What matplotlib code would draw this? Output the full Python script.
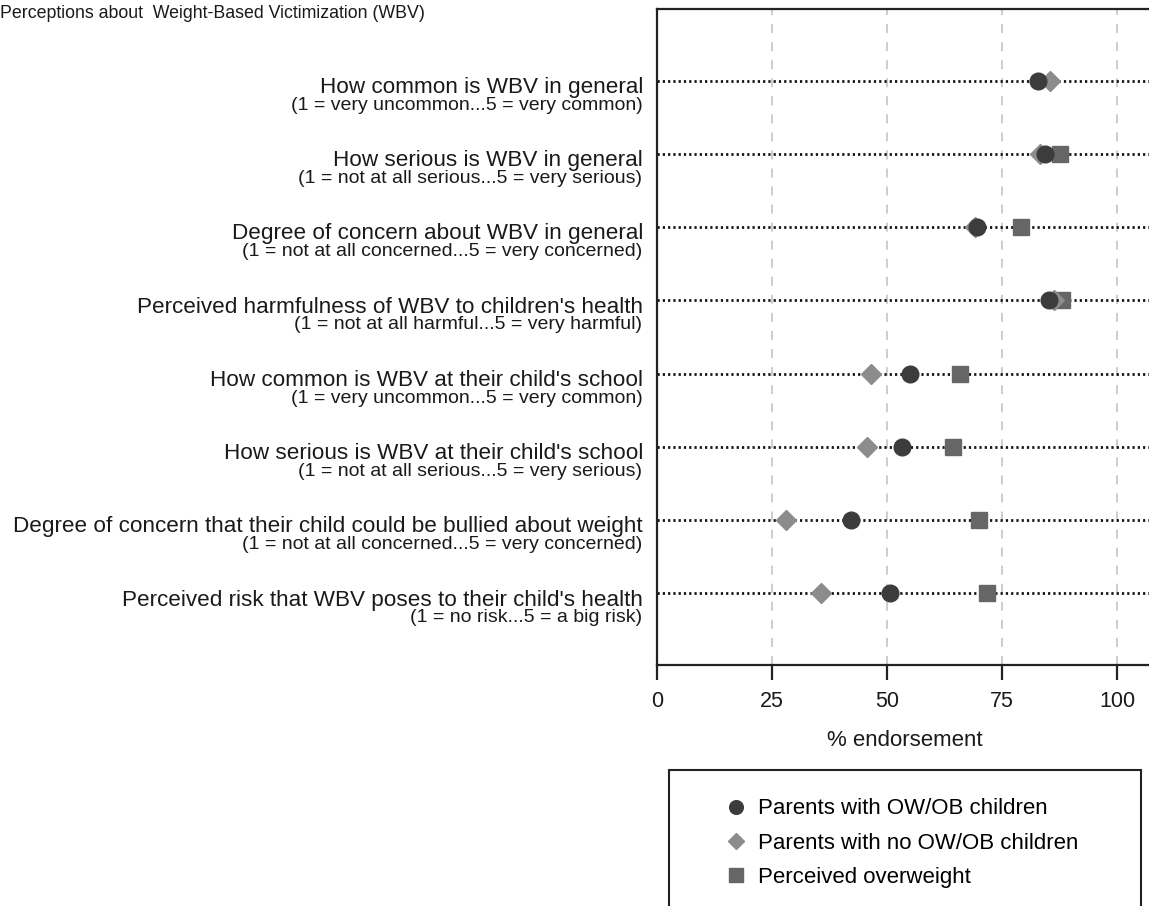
import numpy as np
import matplotlib
matplotlib.use("Agg")
import matplotlib.pyplot as plt
from matplotlib.patches import Rectangle

plt.rcParams['font.family'] = ['Liberation Sans', 'DejaVu Sans']

# ---------------- data ----------------
title = "Perceptions about  Weight-Based Victimization (WBV)"
items = [
    "How common is WBV in general",
    "How serious is WBV in general",
    "Degree of concern about WBV in general",
    "Perceived harmfulness of WBV to children's health",
    "How common is WBV at their child's school",
    "How serious is WBV at their child's school",
    "Degree of concern that their child could be bullied about weight",
    "Perceived risk that WBV poses to their child's health",
]
scales = [
    "(1 = very uncommon...5 = very common)",
    "(1 = not at all serious...5 = very serious)",
    "(1 = not at all concerned...5 = very concerned)",
    "(1 = not at all harmful...5 = very harmful)",
    "(1 = very uncommon...5 = very common)",
    "(1 = not at all serious...5 = very serious)",
    "(1 = not at all concerned...5 = very concerned)",
    "(1 = no risk...5 = a big risk)",
]
parents_ow_ob = [82.8, 84.3, 69.4, 85.2, 55.0, 53.3, 42.0, 50.5]
parents_no_ow_ob = [85.4, 83.2, 69.1, 86.2, 46.5, 45.6, 28.0, 35.6]
perceived_overweight = [np.nan, 87.5, 79.0, 87.9, 65.8, 64.3, 70.0, 71.7]
series_labels = ["Parents with OW/OB children",
                 "Parents with no OW/OB children",
                 "Perceived overweight"]
xticks = [0, 25, 50, 75, 100]
xlabel = "% endorsement"

# ---------------- figure ----------------
W, H = 1149, 906
fig = plt.figure(figsize=(W / 100, H / 100), dpi=100)

def px(x0, y0, x1, y1):
    return [x0 / W, 1 - y1 / H, (x1 - x0) / W, (y1 - y0) / H]

ax = fig.add_axes(px(657.3, 9.3, 657.3 + 110 * 4.6, 665))
ax.set_xlim(0, 110)
n = len(items)
ypos = np.arange(n, 0, -1)
ax.set_ylim(0.022, n + 0.974)

# grid
for t in xticks[1:]:
    ax.axvline(t, color='#c9c9c9', lw=1.3, linestyle=(0, (5, 5)), zorder=1)
# dotted guide lines
ax.hlines(ypos, 0, 110, colors='#151515', lw=2.0, linestyles=(0, (0.8, 1.1)), zorder=2)

h3, = ax.plot(perceived_overweight, ypos, linestyle='none', marker='s', ms=12,
              color='#666666', mec='#666666', zorder=3)
h2, = ax.plot(parents_no_ow_ob, ypos, linestyle='none', marker='D', ms=10.5,
              color='#8c8c8c', mec='#8c8c8c', zorder=4)
h1, = ax.plot(parents_ow_ob, ypos, linestyle='none', marker='o', ms=12,
              color='#3c3c3c', mec='#3c3c3c', zorder=5)

# spines
for s in ['left', 'top', 'bottom']:
    ax.spines[s].set_linewidth(1.6)
    ax.spines[s].set_color('#222222')
ax.spines['right'].set_visible(False)
ax.set_yticks([])
ax.set_xticks(xticks)
ax.set_xticklabels([str(t) for t in xticks])
ax.tick_params(axis='x', direction='out', length=11, width=1.6, color='#222222',
               labelsize=15.5, pad=8, labelcolor='#1a1a1a')
ax.set_xlabel(xlabel, fontsize=16, color='#1a1a1a')
ax.xaxis.set_label_coords((904.5 - 657.3) / 506, -(740 - 665) / 655.7)
ax.xaxis.label.set_va('center')

# row labels
for y, main, sub in zip(ypos, items, scales):
    ax.annotate(main, xy=(0, y), xycoords=('axes fraction', 'data'),
                xytext=(-10.3, -8.8), textcoords='offset points',
                ha='right', va='baseline', fontsize=16.2, color='#1a1a1a',
                annotation_clip=False)
    ax.annotate(sub, xy=(0, y), xycoords=('axes fraction', 'data'),
                xytext=(-10.8, -20.8), textcoords='offset points',
                ha='right', va='baseline', fontsize=14, color='#1a1a1a',
                annotation_clip=False)

# title
fig.text(0.5 / W, 1 - 18.3 / H, title, ha='left', va='baseline',
         fontsize=12.75, color='#1a1a1a')

# legend frame
fig.patches.append(Rectangle((669 / W, 1 - 930 / H), (1140.7 - 669) / W, (930 - 770) / H,
                             transform=fig.transFigure, fill=False,
                             edgecolor='#222222', lw=1.5))
fig.legend([h1, h2, h3], series_labels, loc='upper left',
           bbox_to_anchor=(724.6 / W, 1 - 798.5 / H), frameon=False,
           fontsize=16, borderpad=0, handlelength=1.0, handletextpad=0.52,
           labelspacing=0.6, borderaxespad=0, markerscale=0.82)

fig.savefig("out.png", dpi=100)
